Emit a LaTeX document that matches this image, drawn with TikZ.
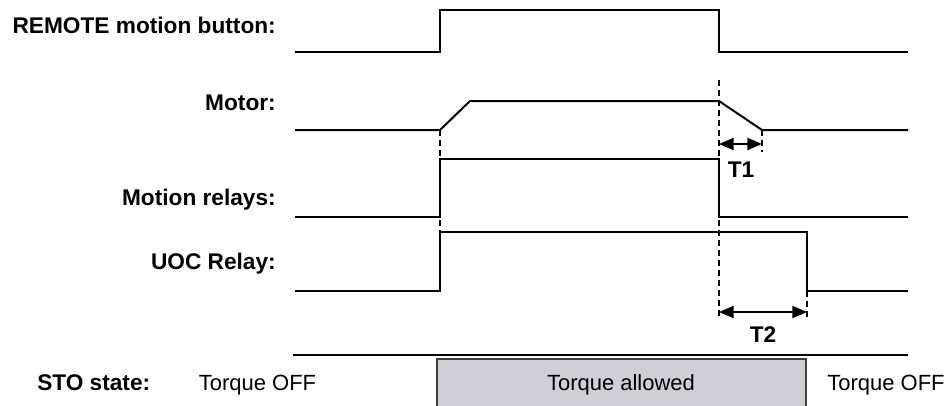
\documentclass[tikz,border=0pt]{standalone}
\usepackage{fontspec}
\setmainfont{Liberation Sans}
\usepackage{xcolor}
\usetikzlibrary{arrows.meta}
\definecolor{stofill}{RGB}{208,207,214}
\definecolor{stoedge}{RGB}{60,60,60}

\begin{document}
\begin{tikzpicture}[x=0.75pt, y=-0.75pt, >={Triangle[length=11pt,width=9pt]},
    line join=miter,
    signal/.style={line width=1.5pt},
    guide/.style={line width=1.2pt, dash pattern=on 4.5pt off 3pt},
    timing/.style={<->, line width=1.5pt},
    lbl/.style={font=\fontsize{17}{20}\selectfont\bfseries, inner sep=0pt},
    sto/.style={font=\fontsize{16.5}{20}\selectfont, inner sep=0pt}]

\clip (0,0) rectangle (949,405);

% Etichette dei segnali
\node[lbl, anchor=base east] (lremote) at (276,33) {REMOTE motion button:};
\node[lbl, anchor=base east] (lmotor) at (276,110) {Motor:};
\node[lbl, anchor=base east] (lrelays) at (276,205) {Motion relays:};
\node[lbl, anchor=base east] (luoc) at (276,269) {UOC Relay:};
\node[lbl, anchor=base west] (lsto) at (37,390) {STO state:};

% Linee guida tratteggiate
\draw[guide] (440,130) -- (440,233);
\draw[guide] (719,80) -- (719,318);
\draw[guide] (762,130) -- (762,152);
\draw[guide] (807,291) -- (807,318);

% Pulsante REMOTE
\draw[signal] (295,52) -- (440,52) -- (440,10) -- (719,10) -- (719,52) -- (908,52);

% Motore (rampe)
\draw[signal] (295,130) -- (440,130) -- (470,101) -- (719,101) -- (762,130) -- (908,130);

% Relè di movimento
\draw[signal] (295,217) -- (440,217) -- (440,159) -- (719,159) -- (719,217) -- (908,217);

% Relè UOC
\draw[signal] (295,291) -- (440,291) -- (440,232) -- (807,232) -- (807,291) -- (908,291);

% Frecce T1 e T2
\coordinate (t1a) at (719,144);
\coordinate (t1b) at (762,144);
\coordinate (t2a) at (719,312);
\coordinate (t2b) at (807,312);
\draw[timing] (t1a) -- (t1b);
\draw[timing] (t2a) -- (t2b);
\node[lbl, anchor=base] (lt1) at (741,177) {T1};
\node[lbl, anchor=base] (lt2) at (763,342) {T2};

% Stato STO
\draw[signal] (293,355) -- (908,355);
\draw[line width=1.5pt, draw=stoedge, fill=stofill] (437,359) rectangle (806,410);
\node[sto, anchor=base] (soff1) at (257.5,390) {Torque OFF};
\node[sto, anchor=base] (sallow) at (621,390) {Torque allowed};
\node[sto, anchor=base] (soff2) at (886,390) {Torque OFF};

\end{tikzpicture}
\end{document}
